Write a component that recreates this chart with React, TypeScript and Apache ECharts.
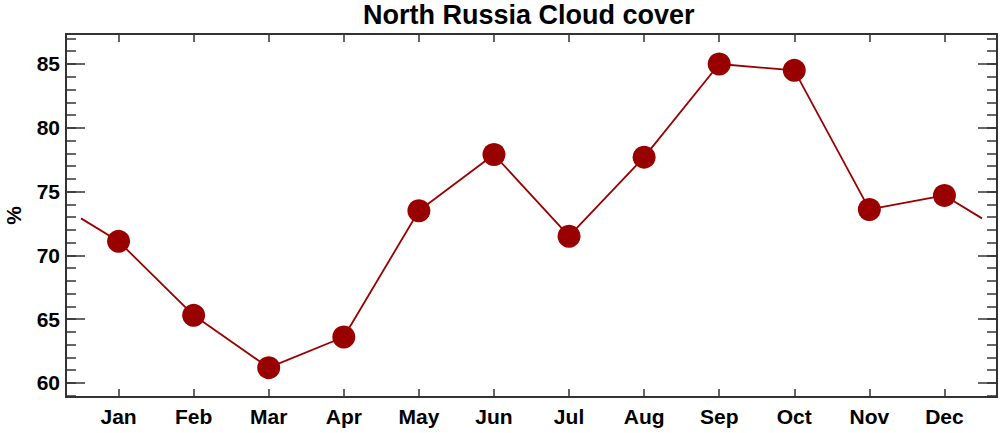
import React, { useEffect, useRef } from "react";
import * as echarts from "echarts";

// ---- data ----
const months = ["Jan", "Feb", "Mar", "Apr", "May", "Jun", "Jul", "Aug", "Sep", "Oct", "Nov", "Dec"];
const monthPositions = [1, 2, 3, 4, 5, 6, 7, 8, 9, 10, 11, 12];
const cloudCover = [71.1, 65.3, 61.2, 63.6, 73.5, 77.9, 71.5, 77.7, 85.0, 84.5, 73.6, 74.7];
const yMajorTicks = [60, 65, 70, 75, 80, 85];
const yMinorTicks = [59, 60, 61, 62, 63, 64, 65, 66, 67, 68, 69, 70, 71, 72, 73, 74, 75, 76, 77, 78, 79, 80, 81, 82, 83, 84, 85, 86, 87];

const FONT = "'Liberation Sans', Arial, Helvetica, sans-serif";
const AXIS_COLOR = "#333333";
const MARK_COLOR = "#990000";

export default function App() {
  const ref = useRef<HTMLDivElement>(null);

  useEffect(() => {
    if (!ref.current) return;
    const chart = echarts.init(ref.current, undefined, { renderer: "svg" });

    const pts = monthPositions.map((m, i) => [m, cloudCover[i]]);
    // the cycle wraps Dec -> Jan: the line runs half a month past each end, to the Dec/Jan mean
    const wrap = (cloudCover[0] + cloudCover[cloudCover.length - 1]) / 2;
    const linePts = [[0.5, wrap], ...pts, [12.5, wrap]];

    const lineStyle = { color: AXIS_COLOR, width: 2 };
    const tickStyle = { color: AXIS_COLOR, width: 1.5 };
    const yMin = 58.9;
    const yMax = 87.35;
    const xMin = 0.3;
    const xMax = 12.7;

    const yAx = (position: "left" | "right", ticks: number[], len: number, labels: boolean) => ({
      type: "value",
      position,
      min: yMin,
      max: yMax,
      axisLine: { show: true, lineStyle },
      axisTick: { show: true, inside: true, length: len, customValues: ticks, lineStyle: tickStyle },
      axisLabel: labels
        ? {
            show: true,
            customValues: yMajorTicks,
            margin: 6,
            fontSize: 21,
            fontWeight: "bold",
            fontFamily: FONT,
            color: "#000",
          }
        : { show: false },
      splitLine: { show: false },
    });

    chart.setOption({
      animation: false,
      title: {
        text: "North Russia Cloud cover",
        left: 363,
        top: 1,
        padding: 0,
        textStyle: { fontSize: 27, fontWeight: "bold", fontFamily: FONT, color: "#000" },
      },
      grid: { left: 66, right: 3, top: 34, bottom: 36, containLabel: false, outerBoundsMode: "none" },
      xAxis: [
        {
          type: "value",
          position: "bottom",
          min: xMin,
          max: xMax,
          axisLine: { show: true, lineStyle },
          axisTick: { show: true, inside: true, length: 8, customValues: monthPositions, lineStyle: tickStyle },
          axisLabel: {
            show: true,
            customValues: monthPositions,
            formatter: (v: number) => months[Math.round(v) - 1] ?? "",
            margin: 9,
            fontSize: 21,
            fontWeight: "bold",
            fontFamily: FONT,
            color: "#000",
          },
          splitLine: { show: false },
        },
        {
          type: "value",
          position: "top",
          min: xMin,
          max: xMax,
          axisLine: { show: true, lineStyle },
          axisTick: { show: true, inside: true, length: 8, customValues: monthPositions, lineStyle: tickStyle },
          axisLabel: { show: false },
          splitLine: { show: false },
        },
      ],
      yAxis: [
        {
          ...yAx("left", yMajorTicks, 19, true),
          name: "%",
          nameLocation: "middle",
          nameGap: 42,
          nameTextStyle: { fontSize: 21, fontWeight: "bold", fontFamily: FONT, color: "#000" },
        },
        yAx("left", yMinorTicks, 10, false),
        yAx("right", yMajorTicks, 19, false),
        yAx("right", yMinorTicks, 10, false),
      ],
      series: [
        {
          type: "line",
          data: linePts,
          xAxisIndex: 0,
          yAxisIndex: 0,
          showSymbol: false,
          symbol: "none",
          lineStyle: { color: MARK_COLOR, width: 1.8 },
          silent: true,
        },
        {
          type: "scatter",
          data: pts,
          xAxisIndex: 0,
          yAxisIndex: 0,
          symbol: "circle",
          symbolSize: 23,
          itemStyle: { color: MARK_COLOR, opacity: 1 },
          silent: true,
        },
      ],
    });

    return () => chart.dispose();
  }, []);

  return (
    <div
      ref={ref}
      style={{ position: "absolute", left: 0, top: 0, width: 1000, height: 433, background: "#fff" }}
    />
  );
}
